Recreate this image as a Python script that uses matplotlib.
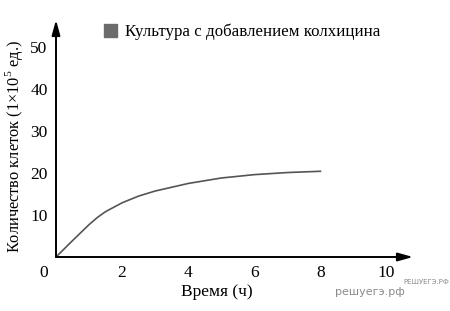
import matplotlib.pyplot as plt
from matplotlib.patches import Patch

# values
hours = [0, 0.5, 1, 1.25, 1.5, 2, 2.5, 3, 4, 5, 6, 7, 8]
cells = [0, 3.9, 7.7, 9.4, 10.8, 12.9, 14.5, 15.7, 17.5, 18.8, 19.6, 20.1, 20.4]
x_ticks = [2, 4, 6, 8, 10]
y_ticks = [10, 20, 30, 40, 50]
legend_label = 'Культура с добавлением колхицина'

plt.rcParams['font.family'] = ['Liberation Serif', 'DejaVu Serif']
plt.rcParams['mathtext.fontset'] = 'custom'
plt.rcParams['mathtext.rm'] = 'Liberation Serif'

fig = plt.figure(figsize=(4.5, 3.11), dpi=100)
ax = fig.add_axes([56 / 450, 54 / 311, 357 / 450, 237 / 311])

ax.plot(hours, cells, color='#555555', lw=1.2)

ax.set_xlim(0, 10.8)
ax.set_ylim(0, 56.4)

for s in ax.spines.values():
    s.set_visible(False)

# axes with arrows
arrow = dict(arrowstyle='-|>,head_length=0.9,head_width=0.25', color='black', lw=1.4,
             shrinkA=0, shrinkB=0)
ax.annotate('', xy=(1, 0), xytext=(0, 0), xycoords='axes fraction', arrowprops=arrow)
ax.annotate('', xy=(0, 1), xytext=(0, 0), xycoords='axes fraction', arrowprops=arrow)

ax.set_xticks(x_ticks)
ax.set_yticks(y_ticks)
ax.tick_params(length=0, labelsize=12.5)
ax.tick_params(axis='x', pad=6)
ax.tick_params(axis='y', pad=6)
ax.annotate('0', xy=(0, 0), xycoords='data', xytext=(-9, -6), textcoords='offset points',
            fontsize=12.5, ha='center', va='top')

ax.set_xlabel('Время (ч)', fontsize=12.5)
ax.xaxis.set_label_coords((217 - 56) / 357, -(284 - 257) / 237)
ax.set_ylabel('Количество клеток (1×10$^\\mathrm{5}$ ед.)', fontsize=11.8)
ax.yaxis.set_label_coords(-(56 - 25) / 357, (257 - 147) / 237)

ax.legend(handles=[Patch(color='#6b6b6b')], labels=[legend_label], frameon=False,
          fontsize=12.2, handlelength=0.75, handleheight=0.75, handletextpad=0.5,
          loc='center left', bbox_to_anchor=((104 - 56) / 357, (257 - 32) / 237),
          borderaxespad=0, borderpad=0)

# watermarks
fig.text(405 / 450, 1 - 292 / 311, 'решуегэ.рф', family='DejaVu Sans', fontsize=8,
         color='#8a8a8a', ha='right', va='center')
fig.text(449 / 450, 1 - 282 / 311, 'РЕШУЕГЭ.РФ', family='DejaVu Sans', fontsize=5,
         color='#8a8a8a', ha='right', va='center')

fig.savefig('out.png', dpi=100)
